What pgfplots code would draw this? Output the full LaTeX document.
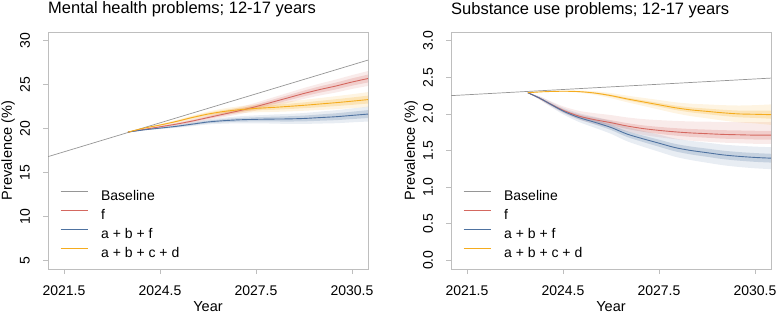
\documentclass[border=0pt]{standalone}
\usepackage{fontspec}
\setmainfont{Liberation Sans}
\usepackage{pgfplots}
\usepackage{pgfplotstable}
\pgfplotsset{compat=1.18}
\usepgfplotslibrary{fillbetween}
\definecolor{colR}{RGB}{212,104,96}
\definecolor{colB}{RGB}{78,114,160}
\definecolor{colO}{RGB}{245,172,30}
\definecolor{colG}{RGB}{150,150,150}
\definecolor{frameG}{RGB}{190,190,190}

\pgfplotstableread{
x      r      o      b      wi    wo
2023.5 19.6   19.6   19.6   0.00  0.00
2024   19.9   20.05  19.85  0.03  0.06
2024.5 20.2   20.4   20.05  0.06  0.11
2025   20.5   20.8   20.25  0.09  0.17
2025.5 20.85  21.25  20.5   0.12  0.23
2026   21.25  21.65  20.75  0.15  0.28
2026.5 21.65  21.95  20.9   0.18  0.34
2027   22.05  22.15  21.0   0.21  0.40
2027.5 22.5   22.3   21.05  0.24  0.45
2028   23.0   22.4   21.08  0.27  0.51
2028.5 23.5   22.52  21.1   0.30  0.57
2029   24.0   22.65  21.15  0.33  0.62
2029.5 24.45  22.8   21.25  0.36  0.68
2030   24.85  22.95  21.35  0.39  0.74
2030.5 25.3   23.12  21.5   0.42  0.79
2031   25.7   23.3   21.65  0.45  0.85
}\leftdata

\pgfplotstableread{
x       r      o      b      wi     wo     owi    owo
2023.4  2.29   2.29   2.29   0.000  0.000  0.000  0.000
2023.75 2.22   2.30   2.22   0.008  0.020  0.000  0.000
2024    2.16   2.305  2.16   0.012  0.030  0.001  0.003
2024.5  2.05   2.31   2.04   0.018  0.045  0.003  0.008
2025    1.97   2.305  1.95   0.024  0.060  0.006  0.015
2025.5  1.92   2.285  1.885  0.030  0.075  0.010  0.025
2026    1.88   2.25   1.815  0.035  0.087  0.014  0.035
2026.5  1.835  2.205  1.725  0.040  0.098  0.018  0.045
2027    1.80   2.165  1.66   0.044  0.108  0.022  0.055
2027.5  1.775  2.125  1.60   0.048  0.117  0.026  0.065
2028    1.755  2.085  1.54   0.051  0.125  0.030  0.075
2028.5  1.74   2.055  1.50   0.054  0.131  0.034  0.085
2029    1.73   2.035  1.47   0.056  0.137  0.038  0.095
2029.5  1.72   2.015  1.44   0.058  0.141  0.042  0.105
2030    1.715  2.00   1.42   0.059  0.145  0.046  0.115
2030.5  1.71   1.995  1.405  0.060  0.148  0.050  0.125
2031    1.71   1.99   1.395  0.060  0.150  0.056  0.140
}\rightdata

\pgfplotstableread{
x     y
2021  16.8
2031  27.8
}\leftbase
\pgfplotstableread{
x     y
2021  2.25
2031  2.49
}\rightbase

\pgfplotsset{
  rstyle/.style={
    width=320pt, height=237pt, scale only axis,
    xmin=2021, xmax=2031,
    axis line style={draw=frameG, line width=0.7pt},
    tick style={draw=frameG, line width=0.7pt},
    major tick length=5pt, tick align=outside,
    xtick pos=bottom, ytick pos=left,
    xtick={2021.5,2024.5,2027.5,2030.5},
    xticklabels={2021.5,2024.5,2027.5,2030.5},
    xticklabel style={anchor=center, yshift=-17pt, font=\fontsize{14}{16}\selectfont},
    yticklabel style={xshift=-18pt, rotate=90, anchor=center, font=\fontsize{14}{16}\selectfont},
    xlabel={Year}, ylabel={Prevalence (\%)},
    xlabel style={at={(axis description cs:0.5,-0.160)}, anchor=center, font=\fontsize{14.5}{16}\selectfont},
    ylabel style={at={(axis description cs:-0.125,0.5)}, anchor=center, rotate=0, font=\fontsize{14.5}{16}\selectfont},
    every axis title shift=0pt,
    title style={at={(axis description cs:0,1)}, anchor=base west, yshift=18pt, inner sep=0pt, font=\fontsize{16.5}{18}\selectfont},
    legend style={draw=none, fill=none, at={(axis description cs:0.0375,0.333)}, anchor=north west,
      inner sep=0pt, row sep=6pt, column sep=13pt, font=\fontsize{14}{16}\selectfont,
      nodes={inner sep=0pt, text height=10pt, text depth=3pt}},
    legend cell align=left,
    legend image code/.code={\draw[#1] (0pt,5pt) -- (27pt,5pt);},
    clip=true,
  },
  bandO/.style={draw=none, fill=#1, fill opacity=0.13, forget plot},
  bandI/.style={draw=none, fill=#1, fill opacity=0.22, forget plot},
  helper/.style={draw=none, forget plot, smooth},
}

\begin{document}
\begin{tikzpicture}

% ---------------- Left panel ----------------
\begin{axis}[rstyle, at={(48pt,45pt)}, anchor=south west,
  ymin=4, ymax=31, ytick={5,10,15,20,25,30}, yticklabels={5,10,15,20,25,30},
  title={Mental health problems; 12-17 years}]
  % red bands
  \addplot[helper, name path=LrOu] table[x=x, y expr=\thisrow{r}+\thisrow{wo}] {\leftdata};
  \addplot[helper, name path=LrOl] table[x=x, y expr=\thisrow{r}-\thisrow{wo}] {\leftdata};
  \addplot[helper, name path=LrIu] table[x=x, y expr=\thisrow{r}+\thisrow{wi}] {\leftdata};
  \addplot[helper, name path=LrIl] table[x=x, y expr=\thisrow{r}-\thisrow{wi}] {\leftdata};
  \addplot[bandO=colR] fill between[of=LrOu and LrOl];
  \addplot[bandI=colR] fill between[of=LrIu and LrIl];
  % blue bands
  \addplot[helper, name path=LbOu] table[x=x, y expr=\thisrow{b}+\thisrow{wo}] {\leftdata};
  \addplot[helper, name path=LbOl] table[x=x, y expr=\thisrow{b}-\thisrow{wo}] {\leftdata};
  \addplot[helper, name path=LbIu] table[x=x, y expr=\thisrow{b}+\thisrow{wi}] {\leftdata};
  \addplot[helper, name path=LbIl] table[x=x, y expr=\thisrow{b}-\thisrow{wi}] {\leftdata};
  \addplot[bandO=colB] fill between[of=LbOu and LbOl];
  \addplot[bandI=colB] fill between[of=LbIu and LbIl];
  % orange bands
  \addplot[helper, name path=LoOu] table[x=x, y expr=\thisrow{o}+\thisrow{wo}] {\leftdata};
  \addplot[helper, name path=LoOl] table[x=x, y expr=\thisrow{o}-\thisrow{wo}] {\leftdata};
  \addplot[helper, name path=LoIu] table[x=x, y expr=\thisrow{o}+\thisrow{wi}] {\leftdata};
  \addplot[helper, name path=LoIl] table[x=x, y expr=\thisrow{o}-\thisrow{wi}] {\leftdata};
  \addplot[bandO=colO] fill between[of=LoOu and LoOl];
  \addplot[bandI=colO] fill between[of=LoIu and LoIl];
  % lines
  \addplot[colG, line width=0.7pt] table[x=x, y=y] {\leftbase};
  \addplot[colR, line width=0.9pt, smooth] table[x=x, y=r] {\leftdata};
  \addplot[colB, line width=0.9pt, smooth] table[x=x, y=b] {\leftdata};
  \addplot[colO, line width=0.9pt, smooth] table[x=x, y=o] {\leftdata};
  \legend{Baseline, f, a + b + f, a + b + c + d}
\end{axis}

% ---------------- Right panel ----------------
\begin{axis}[rstyle, at={(451pt,45pt)}, anchor=south west,
  ymin=-0.12, ymax=3.12, ytick={0,0.5,1,1.5,2,2.5,3},
  yticklabels={0.0,0.5,1.0,1.5,2.0,2.5,3.0},
  title={Substance use problems; 12-17 years}]
  % red bands
  \addplot[helper, name path=RrOu] table[x=x, y expr=\thisrow{r}+1.2*\thisrow{wo}] {\rightdata};
  \addplot[helper, name path=RrOl] table[x=x, y expr=\thisrow{r}-0.8*\thisrow{wo}] {\rightdata};
  \addplot[helper, name path=RrIu] table[x=x, y expr=\thisrow{r}+\thisrow{wi}] {\rightdata};
  \addplot[helper, name path=RrIl] table[x=x, y expr=\thisrow{r}-\thisrow{wi}] {\rightdata};
  \addplot[bandO=colR] fill between[of=RrOu and RrOl];
  \addplot[bandI=colR] fill between[of=RrIu and RrIl];
  % blue bands
  \addplot[helper, name path=RbOu] table[x=x, y expr=\thisrow{b}+\thisrow{wo}] {\rightdata};
  \addplot[helper, name path=RbOl] table[x=x, y expr=\thisrow{b}-\thisrow{wo}] {\rightdata};
  \addplot[helper, name path=RbIu] table[x=x, y expr=\thisrow{b}+\thisrow{wi}] {\rightdata};
  \addplot[helper, name path=RbIl] table[x=x, y expr=\thisrow{b}-\thisrow{wi}] {\rightdata};
  \addplot[bandO=colB] fill between[of=RbOu and RbOl];
  \addplot[bandI=colB] fill between[of=RbIu and RbIl];
  % orange bands
  \addplot[helper, name path=RoOu] table[x=x, y expr=\thisrow{o}+\thisrow{owo}] {\rightdata};
  \addplot[helper, name path=RoOl] table[x=x, y expr=\thisrow{o}-\thisrow{owo}] {\rightdata};
  \addplot[helper, name path=RoIu] table[x=x, y expr=\thisrow{o}+\thisrow{owi}] {\rightdata};
  \addplot[helper, name path=RoIl] table[x=x, y expr=\thisrow{o}-\thisrow{owi}] {\rightdata};
  \addplot[bandO=colO] fill between[of=RoOu and RoOl];
  \addplot[bandI=colO] fill between[of=RoIu and RoIl];
  % lines
  \addplot[colG, line width=0.7pt] table[x=x, y=y] {\rightbase};
  \addplot[colR, line width=0.9pt, smooth] table[x=x, y=r] {\rightdata};
  \addplot[colB, line width=0.9pt, smooth] table[x=x, y=b] {\rightdata};
  \addplot[colO, line width=0.9pt, smooth] table[x=x, y=o] {\rightdata};
  \legend{Baseline, f, a + b + f, a + b + c + d}
\end{axis}

\pgfresetboundingbox
\path[use as bounding box] (0pt,0pt) rectangle (777pt,314pt);
\end{tikzpicture}
\end{document}
